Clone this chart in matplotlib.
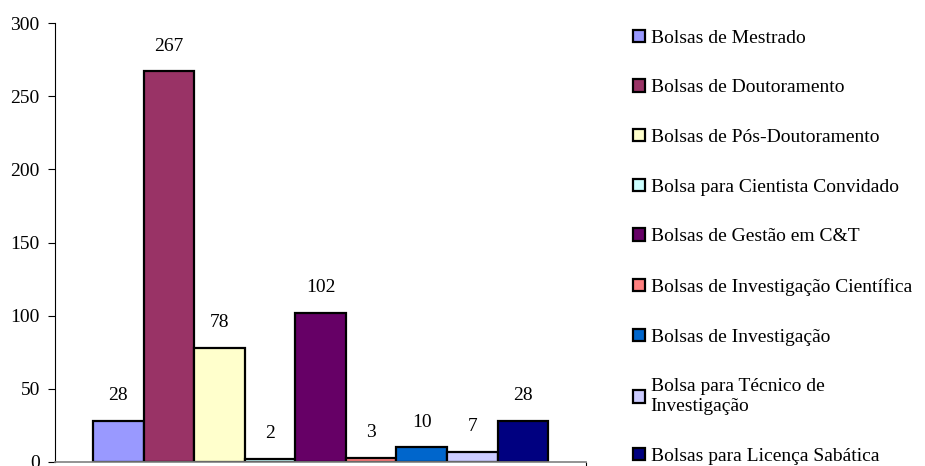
import matplotlib.pyplot as plt
from matplotlib.patches import Patch

plt.rcParams['font.family'] = ['Liberation Serif', 'DejaVu Serif']

# data
labels = ['Bolsas de Mestrado', 'Bolsas de Doutoramento', 'Bolsas de Pós-Doutoramento',
          'Bolsa para Cientista Convidado', 'Bolsas de Gestão em C&T',
          'Bolsas de Investigação Científica', 'Bolsas de Investigação',
          'Bolsa para Técnico de\nInvestigação', 'Bolsas para Licença Sabática']
values = [28, 267, 78, 2, 102, 3, 10, 7, 28]
colors = ['#9999FF', '#993366', '#FFFFCC', '#CCFFFF', '#660066',
          '#FF8080', '#0066CC', '#CCCCFF', '#000080']
yticks = [0, 50, 100, 150, 200, 250, 300]

fig = plt.figure(figsize=(9.25, 4.66), dpi=100)
ax = fig.add_axes([0.0595, 0.0086, 0.5735, 0.942])

xs = list(range(len(values)))
bars = ax.bar(xs, values, width=1.0, color=colors, edgecolor='black', linewidth=1.6)
for x, v in zip(xs, values):
    ax.annotate(str(v), (x, v), xytext=(0, 12), textcoords='offset points',
                ha='center', va='bottom', fontsize=14)

ax.set_xlim(-1.25, 9.24)
ax.set_ylim(0, 300)
ax.set_yticks(yticks)
ax.tick_params(axis='y', labelsize=14, length=5, width=0.8, pad=6)
ax.set_xticks([9.24])
ax.set_xticklabels([''])
ax.tick_params(axis='x', length=4, width=0.8, color='black')
ax.spines['top'].set_visible(False)
ax.spines['right'].set_visible(False)
ax.spines['left'].set_linewidth(0.8)
ax.spines['bottom'].set_color('#808080')
ax.spines['bottom'].set_linewidth(1.2)

handles = [Patch(facecolor=c, edgecolor='black', linewidth=1.6) for c in colors]
fig.legend(handles, labels, loc='upper left', bbox_to_anchor=(0.676, 0.953),
           frameon=False, fontsize=14, handlelength=0.6, handleheight=0.6,
           handletextpad=0.3, labelspacing=1.68, borderaxespad=0)

fig.savefig('out.png', dpi=100)
